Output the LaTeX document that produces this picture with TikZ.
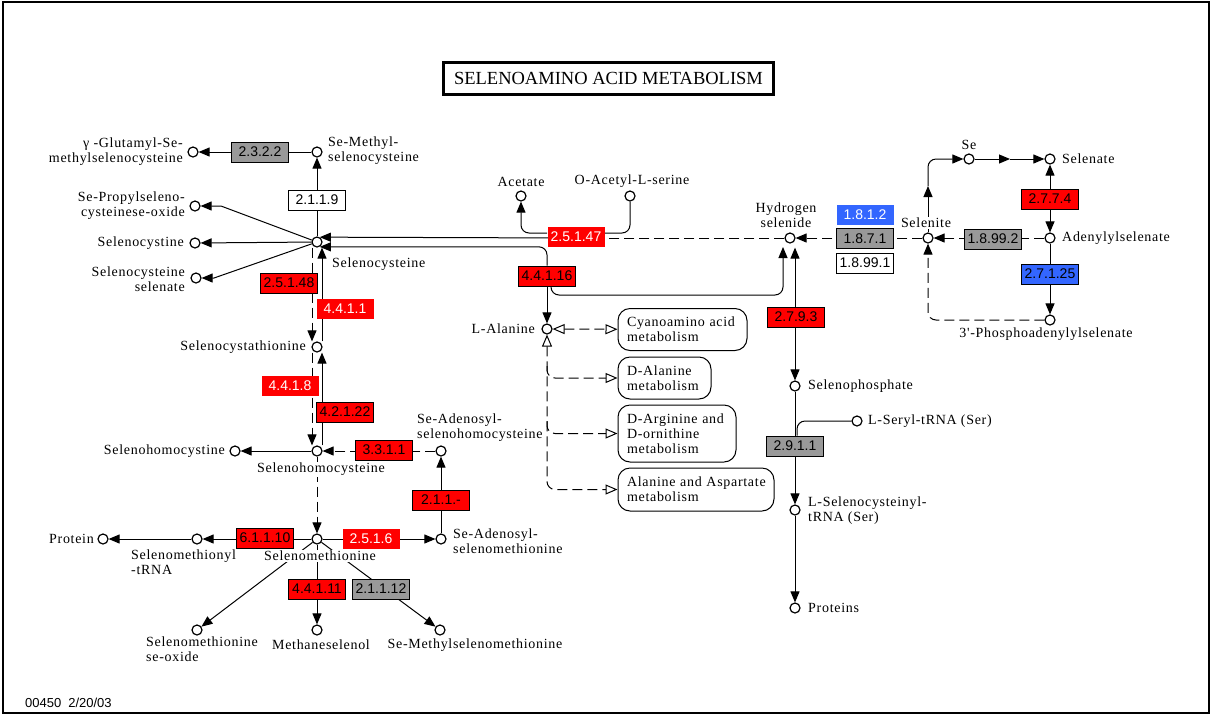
\documentclass[tikz,border=0pt]{standalone}
\usepackage{fontspec}
\setmainfont{Liberation Serif}
\newfontfamily\kgserif{Liberation Serif}[LetterSpace=5]
\newfontfamily\kgsans{Liberation Sans}
\usetikzlibrary{arrows.meta}
\pgfdeclarelayer{bg}
\pgfsetlayers{bg,main}
\definecolor{kgred}{RGB}{255,0,0}
\definecolor{kggray}{RGB}{153,153,153}
\definecolor{kgblue}{RGB}{51,102,255}
\newcommand\kgcpd{\kgserif\fontsize{14}{15}\selectfont}
\newcommand\kgec{\kgsans\fontsize{14}{15}\selectfont}
\begin{document}
\begin{tikzpicture}[x=1pt,y=-1pt,
  cpd/.style={circle,draw=black,fill=white,line width=1.2pt,minimum size=10pt,inner sep=0pt},
  ec/.style={rectangle,minimum width=57pt,minimum height=20pt,inner sep=0pt,line width=1pt,font=\kgec},
  ecred/.style={ec,draw=black,fill=kgred,text=black},
  ecredw/.style={ec,fill=kgred,text=white},
  ecgray/.style={ec,draw=black,fill=kggray,text=black},
  ecwhite/.style={ec,draw=black,fill=white,text=black},
  ecbluew/.style={ec,fill=kgblue,text=white},
  ecbluek/.style={ec,draw=black,fill=kgblue,text=black},
  lbl/.style={font=\kgcpd,inner sep=1pt,fill=white},
  mapbox/.style={draw=black,line width=1pt,rounded corners=12pt,fill=white,font=\kgcpd,align=left,inner xsep=9pt,inner ysep=0pt},
  ln/.style={line width=1pt,draw=black},
  dsh/.style={dash pattern=on 10pt off 5pt},
  fwd/.style={-{Triangle[length=11pt,width=9pt]}},
  bid/.style={{Triangle[length=11pt,width=9pt]}-{Triangle[length=11pt,width=9pt]}},
  oend/.style={-{Triangle[open,length=12pt,width=10pt]}},
  obid/.style={{Triangle[open,length=12pt,width=10pt]}-{Triangle[open,length=12pt,width=10pt]}}
]
\useasboundingbox (0,0) rectangle (1211,716);

% ---------- compound labels ----------
\node[lbl,anchor=east,align=right] (Lgglu) at (184,152) {γ -Glutamyl-Se-\\methylselenocysteine};
\node[lbl,anchor=west,align=left] (Lsemc) at (327,150.5) {Se-Methyl-\\selenocysteine};
\node[lbl,anchor=east,align=right] (Lsepro) at (186,205.5) {Se-Propylseleno-\\cysteinese-oxide};
\node[lbl,anchor=east] (Lsecys2) at (185,243) {Selenocystine};
\node[lbl,anchor=east,align=right] (Lsecsel) at (186,279) {Selenocysteine\\selenate};
\node[lbl,anchor=west] (Lsecys) at (331,264) {Selenocysteine};
\node[lbl,anchor=east] (Lsecysth) at (307,347) {Selenocystathionine};
\node[lbl,anchor=east] (Lsehcys2) at (226,451) {Selenohomocystine};
\node[lbl] (Lsehcys) at (321,469.5) {Selenohomocysteine};
\node[lbl,fill=none,anchor=west,align=left] (Lsah) at (416,428) {Se-Adenosyl-\\selenohomocysteine};
\node[lbl,anchor=west,align=left] (Lsam) at (452,541) {Se-Adenosyl-\\selenomethionine};
\node[lbl] (Lsemet) at (320,556) {Selenomethionine};
\node[lbl,anchor=west,align=left] (Lsemettrna) at (130,562) {Selenomethionyl\\-tRNA};
\node[lbl,anchor=east] (Lprotein) at (95,539) {Protein};
\node[lbl,anchor=west,align=left] (Lsemetox) at (145,649) {Selenomethionine\\se-oxide};
\node[lbl] (Lmesel) at (321,645) {Methaneselenol};
\node[lbl] (Lsmsm) at (475,645) {Se-Methylselenomethionine};
\node[lbl] (Lacet) at (521,182) {Acetate};
\node[lbl] (Loas) at (632,181) {O-Acetyl-L-serine};
\node[lbl,align=center] (Lh2se) at (786,215.5) {Hydrogen\\selenide};
\node[lbl,anchor=east] (Llala) at (536,329) {L-Alanine};
\node[lbl,anchor=west] (Lsephos) at (807,386) {Selenophosphate};
\node[lbl,anchor=west] (Lsertrna) at (867,421) {L-Seryl-tRNA (Ser)};
\node[lbl,anchor=west,align=left] (Lsecystrna) at (807,511) {L-Selenocysteinyl-\\tRNA (Ser)};
\node[lbl,anchor=west] (Lproteins) at (807,608) {Proteins};
\node[lbl] (Lselenite) at (926,223) {Selenite};
\node[lbl] (Lse) at (969,145) {Se};
\node[lbl,anchor=west] (Lselenate) at (1061,159) {Selenate};
\node[lbl,anchor=west] (Laps) at (1061,238) {Adenylylselenate};
\node[lbl] (Lpaps) at (1046,334) {3'-Phosphoadenylylselenate};

% ---------- compounds ----------
\node[cpd] (gglu) at (193,152) {};
\node[cpd] (semc) at (317,152) {};
\node[cpd] (sepro) at (195,206) {};
\node[cpd] (secys2) at (195,243) {};
\node[cpd] (secsel) at (196,278) {};
\node[cpd] (secys) at (317,242) {};
\node[cpd] (secysth) at (317,347) {};
\node[cpd] (sehcys) at (317,451) {};
\node[cpd] (sehcys2) at (235,451) {};
\node[cpd] (sah) at (441,451) {};
\node[cpd] (sam) at (441,539) {};
\node[cpd] (semet) at (317,539) {};
\node[cpd] (semettrna) at (197,539) {};
\node[cpd] (protein) at (103,539) {};
\node[cpd] (semetox) at (197,630) {};
\node[cpd] (mesel) at (317,630) {};
\node[cpd] (smsm) at (440,630) {};
\node[cpd] (acet) at (521,196) {};
\node[cpd] (oas) at (630,196) {};
\node[cpd] (h2se) at (790,238) {};
\node[cpd] (lala) at (547,329) {};
\node[cpd] (sephos) at (795,386) {};
\node[cpd] (sertrna) at (857,421) {};
\node[cpd] (secystrna) at (795,510) {};
\node[cpd] (proteins) at (795,608) {};
\node[cpd] (selenite) at (928,238) {};
\node[cpd] (se) at (969,159) {};
\node[cpd] (selenate) at (1050,159) {};
\node[cpd] (aps) at (1050,238) {};
\node[cpd] (paps) at (1050,320) {};

% ---------- enzymes ----------
\node[ecgray] (e2322) at (260,152) {2.3.2.2};
\node[ecwhite] (e2119) at (317,200) {2.1.1.9};
\node[ecred] (e25148) at (289,283) {2.5.1.48};
\node[ecredw] (e4411) at (345,309) {4.4.1.1};
\node[ecredw] (e4418) at (290,386) {4.4.1.8};
\node[ecred] (e42122) at (345,412) {4.2.1.22};
\node[ecred] (e3311) at (384,450) {3.3.1.1};
\node[ecred] (e211m) at (441,500) {2.1.1.-};
\node[ecredw] (e2516) at (371,539) {2.5.1.6};
\node[ecred] (e61110) at (265,538) {6.1.1.10};
\node[ecred] (e44111) at (317,589) {4.4.1.11};
\node[ecgray] (e21112) at (381,589) {2.1.1.12};
\node[ecredw] (e25147) at (576,237) {2.5.1.47};
\node[ecred] (e44116) at (547,276) {4.4.1.16};
\node[ecred] (e2793) at (796,317) {2.7.9.3};
\node[ecgray] (e2911) at (795,446) {2.9.1.1};
\node[ecbluew] (e1812) at (865,215) {1.8.1.2};
\node[ecgray] (e1871) at (865,238.5) {1.8.7.1};
\node[ecwhite] (e18991) at (865,263) {1.8.99.1};
\node[ecgray] (e18992) at (993,239) {1.8.99.2};
\node[ecred] (e2774) at (1050,199) {2.7.7.4};
\node[ecbluek] (e27125) at (1050,274) {2.7.1.25};

% ---------- linked pathway maps ----------
\node[mapbox,text width=111pt,minimum height=42pt] (cyano) at (682.5,329.5) {Cyanoamino acid\\metabolism};
\node[mapbox,text width=75pt,minimum height=42pt] (dala) at (664.5,378) {D-Alanine\\metabolism};
\node[mapbox,text width=100pt,minimum height=57pt] (darg) at (677,433.5) {D-Arginine and\\D-ornithine\\metabolism};
\node[mapbox,text width=138pt,minimum height=43pt] (alaasp) at (696,489.5) {Alanine and Aspartate\\metabolism};

% ---------- title and stamp ----------
\node[draw=black,line width=3pt,minimum width=330pt,minimum height=32pt,inner sep=0pt,font=\fontsize{18.5}{20}\selectfont] (title) at (608.5,78.5) {SELENOAMINO ACID METABOLISM};
\node[font=\kgsans\fontsize{13}{15}\selectfont,anchor=west,inner sep=0pt] (stamp) at (25,703) {00450\hspace{7pt}2/20/03};

% ---------- connectors ----------
\begin{pgfonlayer}{bg}
\draw[line width=1.5pt] (3,2) rectangle (1209,713);

% selenocysteine branch
\draw[ln,fwd] (semc) -- (gglu);
\draw[ln,fwd] (secys) -- (semc);
\draw[ln,fwd] (secys) -- (221,206) -- (sepro);
\draw[ln,fwd] (secys) -- (secys2);
\draw[ln,fwd] (secys) -- (214,278) -- (secsel);

% transsulfuration steps
\draw[ln,dsh,fwd] ([xshift=-5pt]secys.south) -- ([xshift=-5pt]secysth.north);
\draw[ln,fwd] ([xshift=5pt]secysth.north) -- ([xshift=5pt]secys.south);
\draw[ln,dsh,fwd] ([xshift=-5pt]secysth.south) -- ([xshift=-5pt]sehcys.north);
\draw[ln,fwd] ([xshift=5pt]sehcys.north) -- ([xshift=5pt]secysth.south);

% methionine cycle
\draw[ln,fwd] (sehcys) -- (sehcys2);
\draw[ln,dsh,fwd] (sah) -- (sehcys);
\draw[ln,dsh,fwd] (sehcys) -- (semet);
\draw[ln,fwd] (semet) -- (sam);
\draw[ln,fwd] (sam) -- (sah);
\draw[ln,fwd] (semet) -- (semettrna);
\draw[ln,fwd] (semettrna) -- (protein);
\draw[ln,fwd] (semet) -- (semetox);
\draw[ln,fwd] (semet) -- (mesel);
\draw[ln,fwd] (semet) -- (smsm);

% hydrogen selenide to selenocysteine
\draw[ln,rounded corners=8pt,fwd] ([yshift=4pt]e25147.west) -| (acet);
\draw[ln,rounded corners=8pt] (oas) |- ([yshift=4pt]e25147.east);
\draw[ln,dsh] (h2se) -- (e25147.center |- h2se);
\draw[ln,fwd] (e25147.center |- h2se) -- (secys.60);

% selenocysteine lyase
\draw[ln,rounded corners=8pt,fwd] (e44116.north) |- (secys.-60);
\draw[ln,fwd] (e44116) -- (lala);
\coordinate (h2seIn) at (783,247);
\coordinate (bendA) at (783,295);
\draw[ln,rounded corners=8pt,fwd] ([xshift=4pt]e44116.south) |- (bendA) -- (h2seIn);

% inorganic selenium
\draw[ln,dsh,fwd] (selenite) -- (h2se);
\draw[ln,dsh,fwd] (aps) -- (selenite);
\draw[ln,bid] ([xshift=5pt,yshift=-4pt]h2se.south) -- (sephos);
\draw[ln,fwd] (sephos) -- (secystrna);
\draw[ln,rounded corners=8pt] (sertrna) -| ([xshift=2pt]e2911.north);
\draw[ln,fwd] (secystrna) -- (proteins);
\coordinate (semid) at (928,186);
\draw[ln,fwd] (selenite) -- (semid);
\draw[ln,rounded corners=8pt,fwd] (semid) |- (se);
\coordinate (sesmid) at (1010,159);
\draw[ln,fwd] (se) -- (sesmid);
\draw[ln,fwd] (sesmid) -- (selenate);
\draw[ln,bid] (aps) -- (selenate);
\draw[ln,fwd] (aps) -- (paps);
\draw[ln,dsh,rounded corners=8pt,fwd] (paps) -| (selenite);

% links to alanine maps
\draw[ln,dsh,obid] (lala) -- (cyano);
\draw[ln,dsh,rounded corners=8pt,obid] (lala) |- (alaasp);
\coordinate (brA) at (547,366);
\coordinate (brB) at (547,421);
\draw[ln,dsh,rounded corners=8pt,oend] (brA) |- (dala);
\draw[ln,dsh,rounded corners=8pt,oend] (brB) |- (darg);
\end{pgfonlayer}
\end{tikzpicture}
\end{document}
